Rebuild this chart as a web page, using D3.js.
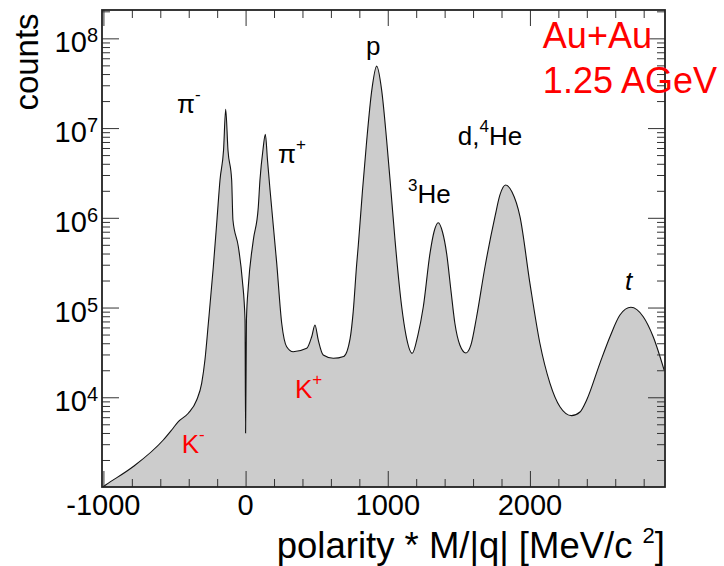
<!DOCTYPE html>
<html>
<head>
<meta charset="utf-8">
<script src="https://cdn.jsdelivr.net/npm/d3@7"></script>
<style>
  body { margin: 0; background: #fff; }
  text { font-family: "Liberation Sans", Arial, sans-serif; }
</style>
</head>
<body>
<div id="viz"></div>
<script>

// mass spectrum (x in MeV/c^2, y in counts)
var mass = [-1005, -982, -790, -579, -520, -473, -403, -344, -309, -286, -262, -227, -201, -180, -155, -140, -124, -98, -89, -51, -23, -4, 0, 6, 19, 54, 89, 101, 122, 139, 154, 172, 219, 254, 289, 335, 430, 465, 488, 511, 546, 617, 690, 735, 757, 781, 793, 822, 851, 887, 922, 957, 992, 1022, 1051, 1098, 1128, 1172, 1212, 1250, 1297, 1325, 1355, 1385, 1414, 1444, 1472, 1507, 1550, 1585, 1625, 1684, 1754, 1789, 1829, 1874, 1930, 2000, 2070, 2141, 2211, 2293, 2352, 2399, 2492, 2563, 2633, 2710, 2797, 2867, 2944];
var counts = [1000, 1060, 1690, 3340, 4320, 5350, 6640, 9330, 14300, 26000, 66800, 285000, 970000, 2.64e6, 5.7e6, 1.62e7, 5.7e6, 2.64e6, 944000, 476000, 203000, 72600, 4000, 72600, 171000, 560000, 1.3e6, 2.64e6, 5.7e6, 8.5e6, 4.4e6, 2.04e6, 311000, 66800, 36600, 32200, 35100, 47300, 64000, 43500, 29600, 27200, 28500, 45000, 90000, 300000, 500000, 2.0e6, 7.0e6, 2.6e7, 4.9e7, 2.65e7, 7.36e6, 2.04e6, 566000, 102000, 49400, 30900, 49400, 102000, 402000, 695000, 881000, 695000, 402000, 157000, 66800, 38300, 31200, 38300, 79000, 285000, 1.03e6, 1.80e6, 2.32e6, 1.94e6, 1.03e6, 186000, 40000, 14300, 7850, 6240, 6850, 9330, 23900, 47300, 82600, 100700, 79000, 47300, 20100];

var xMajor = [-1000, 0, 1000, 2000];
var yExp = [4, 5, 6, 7, 8];

// particle labels: text, superscript, position in data units, colour
var peakNames = ["\u03c0", "\u03c0", "p", "He", "d,", "t", "K", "K"];
var peakSup   = ["-", "+", "", "", "", "", "+", "-"];
var peakPre   = ["", "", "", "3", "", "", "", ""];
var peakTail  = ["", "", "", "", "He", "", "", ""];
var peakMass  = [-482, 228, 847, 1142, 1493, 2668, 347, -449];
var peakCount = [1.47e7, 4.08e6, 6.52e7, 1.47e6, 6.47e6, 1.57e5, 9.8e3, 2.39e3];
var peakColor = ["#000", "#000", "#000", "#000", "#000", "#000", "#ff0000", "#ff0000"];

var width = 724,
    height = 566;

var mLeft = 102, mRight = 665, mTop = 10, mBottom = 487;

var svg = d3.select("#viz")
    .append("svg")
    .attr("width", width)
    .attr("height", height);

var x = d3.scaleLinear().domain([-1010, 2950]).range([mLeft, mRight]);
var y = d3.scaleLog().domain([1000, 2.07e8]).range([mBottom, mTop]);

var data = mass.map(function(m, i) { return {m: m, c: counts[i]}; });

// ****************** spectrum ***************************
var area = d3.area()
    .x(function(d) { return x(d.m); })
    .y0(mBottom)
    .y1(function(d) { return y(d.c); })
    .curve(d3.curveMonotoneX);

var line = d3.line()
    .x(function(d) { return x(d.m); })
    .y(function(d) { return y(d.c); })
    .curve(d3.curveMonotoneX);

svg.append("path")
    .datum(data)
    .attr("d", area)
    .attr("fill", "#cccccc");

svg.append("path")
    .datum(data)
    .attr("d", line)
    .attr("fill", "none")
    .attr("stroke", "#111")
    .attr("stroke-width", 1.1);

// ****************** axes ***************************
var xMinor = d3.range(-1000, 2951, 200).filter(function(v) { return xMajor.indexOf(v) < 0; });
var yMinor = [];
yExp.concat([3]).forEach(function(e) {
  for (var k = 2; k <= 9; k++) {
    var v = k * Math.pow(10, e);
    if (v < 2.07e8) yMinor.push(v);
  }
});
var yMajor = yExp.map(function(e) { return Math.pow(10, e); });

function tidy(g) {
  g.select(".domain").remove();
  g.selectAll(".tick line").attr("stroke", "#333").attr("stroke-width", 1);
}

svg.append("g").attr("transform", "translate(0," + mBottom + ")")
    .call(d3.axisBottom(x).tickValues(xMajor).tickSize(-16).tickFormat("")).call(tidy);
svg.append("g").attr("transform", "translate(0," + mBottom + ")")
    .call(d3.axisBottom(x).tickValues(xMinor).tickSize(-8).tickFormat("")).call(tidy);
svg.append("g").attr("transform", "translate(0," + mTop + ")")
    .call(d3.axisTop(x).tickValues(xMajor).tickSize(-16).tickFormat("")).call(tidy);
svg.append("g").attr("transform", "translate(0," + mTop + ")")
    .call(d3.axisTop(x).tickValues(xMinor).tickSize(-8).tickFormat("")).call(tidy);

svg.append("g").attr("transform", "translate(" + mLeft + ",0)")
    .call(d3.axisLeft(y).tickValues(yMajor).tickSize(-17).tickFormat("")).call(tidy);
svg.append("g").attr("transform", "translate(" + mLeft + ",0)")
    .call(d3.axisLeft(y).tickValues(yMinor).tickSize(-8).tickFormat("")).call(tidy);
svg.append("g").attr("transform", "translate(" + mRight + ",0)")
    .call(d3.axisRight(y).tickValues(yMajor).tickSize(-17).tickFormat("")).call(tidy);
svg.append("g").attr("transform", "translate(" + mRight + ",0)")
    .call(d3.axisRight(y).tickValues(yMinor).tickSize(-8).tickFormat("")).call(tidy);

// frame
svg.append("rect")
    .attr("x", mLeft).attr("y", mTop)
    .attr("width", mRight - mLeft).attr("height", mBottom - mTop)
    .attr("fill", "none")
    .attr("stroke", "#222")
    .attr("stroke-width", 1.8);

// x tick labels
svg.selectAll(".xlab")
    .data(xMajor)
    .enter().append("text")
    .attr("x", function(d) { return x(d); })
    .attr("y", mBottom + 28)
    .attr("text-anchor", "middle")
    .style("font-size", "29px")
    .text(function(d) { return d; });

// y tick labels 10^n
var ylab = svg.selectAll(".ylab")
    .data(yExp)
    .enter().append("text")
    .attr("x", mLeft - 4)
    .attr("y", function(d) { return y(Math.pow(10, d)) + 14; })
    .attr("text-anchor", "end")
    .style("font-size", "29px");
ylab.append("tspan").text("10");
ylab.append("tspan")
    .attr("dy", -10)
    .style("font-size", "20px")
    .text(function(d) { return d; });

// axis titles
svg.append("text")
    .attr("transform", "translate(37.5,62) rotate(-90)")
    .attr("text-anchor", "middle")
    .style("font-size", "33px")
    .text("counts");

var xt = svg.append("text")
    .attr("x", mRight)
    .attr("y", 558)
    .attr("text-anchor", "end")
    .style("font-size", "36.5px");
xt.append("tspan").text("polarity * M/|q| [MeV/c ");
xt.append("tspan").attr("dy", -15).style("font-size", "22px").text("2");
xt.append("tspan").attr("dy", 15).text("]");

// ****************** particle labels ***************************
peakNames.forEach(function(name, i) {
  var t = svg.append("text")
      .attr("x", x(peakMass[i]))
      .attr("y", y(peakCount[i]))
      .attr("fill", peakColor[i])
      .style("font-size", "26px")
      .style("font-style", name == "t" ? "italic" : "normal");
  if (peakPre[i]) t.append("tspan").attr("dy", -12).style("font-size", "17px").text(peakPre[i]);
  t.append("tspan").attr("dy", peakPre[i] ? 12 : 0).text(name);
  if (peakTail[i]) {
    t.append("tspan").attr("dy", -13).style("font-size", "17px").text("4");
    t.append("tspan").attr("dy", 13).text(peakTail[i]);
  }
  if (peakSup[i]) t.append("tspan").attr("dy", -13).style("font-size", "17px").text(peakSup[i]);
});

// reaction
svg.append("text")
    .attr("x", x(2091)).attr("y", y(7.8e7))
    .attr("fill", "#ff0000")
    .style("font-size", "36px")
    .text("Au+Au");
svg.append("text")
    .attr("x", x(2091)).attr("y", y(2.46e7))
    .attr("fill", "#ff0000")
    .style("font-size", "36px")
    .text("1.25 AGeV");

</script>
</body>
</html>
